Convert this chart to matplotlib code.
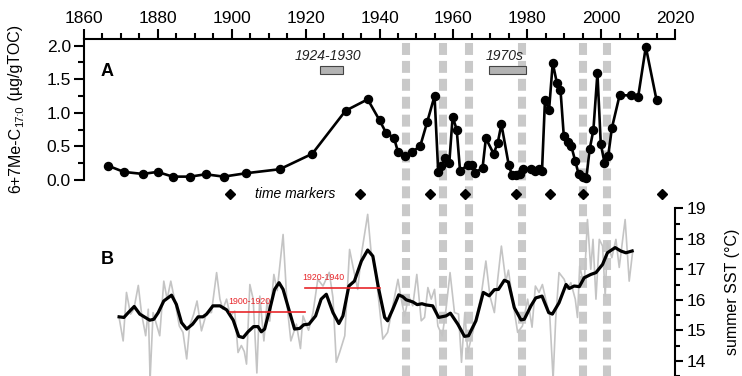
import matplotlib
matplotlib.use("Agg")
from matplotlib import pyplot as plt
from matplotlib.patches import Rectangle

plt.rcParams['font.family'] = ['Liberation Sans', 'DejaVu Sans']
plt.rcParams['lines.scale_dashes'] = False

# panel A: 6+7Me-C17:0 concentrations
a_years = [1866.6, 1870.8, 1875.9, 1879.9, 1884.0, 1888.8, 1892.9, 1897.8, 1903.8,
           1913.0, 1921.8, 1930.8, 1936.8, 1940.0, 1941.8, 1943.9, 1945.0, 1947.0,
           1948.8, 1951.0, 1952.9, 1954.9, 1955.9, 1956.7, 1957.8, 1958.9, 1959.8,
           1960.9, 1961.8, 1963.9, 1965.0, 1965.9, 1967.9, 1968.8, 1970.9, 1972.0,
           1973.0, 1975.0, 1975.9, 1977.0, 1978.0, 1978.9, 1981.0, 1982.1, 1983.2,
           1984.0, 1984.8, 1985.9, 1986.9, 1988.0, 1989.0, 1989.9, 1991.0, 1991.9,
           1993.0, 1993.9, 1995.0, 1996.0, 1996.9, 1997.9, 1999.0, 1999.9, 2000.9,
           2001.9, 2002.9, 2005.0, 2008.0, 2010.0, 2012.1, 2015.0]
a_values = [0.21, 0.12, 0.09, 0.12, 0.05, 0.05, 0.085, 0.05, 0.10,
            0.16, 0.39, 1.03, 1.20, 0.89, 0.70, 0.63, 0.42, 0.36,
            0.42, 0.50, 0.86, 1.25, 0.12, 0.21, 0.32, 0.26, 0.94,
            0.75, 0.14, 0.22, 0.22, 0.11, 0.18, 0.62, 0.39, 0.55,
            0.83, 0.22, 0.07, 0.07, 0.09, 0.17, 0.16, 0.14, 0.16,
            0.14, 1.19, 1.04, 1.74, 1.45, 1.34, 0.65, 0.57, 0.51,
            0.28, 0.09, 0.05, 0.03, 0.46, 0.74, 1.59, 0.54, 0.26,
            0.35, 0.77, 1.26, 1.26, 1.23, 1.98, 1.19]

time_markers = [1899.5, 1934.6, 1953.8, 1963.2, 1976.9, 1986.1, 1995.2, 2016.4]
event_years = [1947.2, 1957.1, 1964.3, 1978.7, 1995.0, 2001.5]
periods = [("1924-1930", 1923.8, 1930.0), ("1970s", 1969.7, 1979.6)]

# panel B: summer SST, annual (grey) and smoothed (black)
sst_years = [1869.5, 1870.6, 1871.5, 1872.6, 1873.5, 1874.7, 1875.6, 1876.7, 1877.4,
             1877.9, 1878.7, 1880.5, 1881.6, 1882.5, 1883.5, 1884.6, 1885.8, 1886.8,
             1887.8, 1888.6, 1889.7, 1890.6, 1891.8, 1893.2, 1894.5, 1895.9, 1896.8,
             1897.6, 1898.6, 1899.6, 1900.8, 1901.7, 1902.6, 1903.4, 1904.0, 1904.9,
             1905.8, 1906.8, 1907.6, 1908.7, 1909.6, 1910.3, 1911.4, 1912.3, 1913.9,
             1915.0, 1916.0, 1917.5, 1918.6, 1919.3, 1920.8, 1922.0, 1923.3, 1924.7,
             1926.4, 1927.4, 1928.3, 1929.2, 1930.6, 1931.9, 1932.8, 1934.1, 1935.1,
             1936.8, 1937.7, 1938.8, 1940.9, 1942.2, 1943.6, 1945.0, 1945.9, 1946.8,
             1947.9, 1949.0, 1950.1, 1951.3, 1952.2, 1953.1, 1954.0, 1954.9, 1955.8,
             1957.0, 1958.0, 1959.1, 1960.3, 1961.4, 1962.2, 1963.1, 1963.9, 1964.8,
             1966.1, 1967.5, 1968.8, 1969.9, 1971.1, 1972.0, 1973.0, 1974.2, 1974.9,
             1976.0, 1977.4, 1978.7, 1980.1, 1981.3, 1982.2, 1983.2, 1984.1, 1985.0,
             1986.1, 1987.0, 1987.7, 1988.6, 1990.0, 1990.9, 1991.8, 1993.0, 1993.6,
             1994.2, 1995.4, 1996.3, 1997.2, 1997.8, 1998.6, 1999.5, 2000.4, 2001.1,
             2001.7, 2002.9, 2004.0, 2004.9, 2006.5, 2007.6, 2008.5]
sst_values = [15.42, 14.65, 16.24, 15.53, 15.69, 16.47, 15.53, 14.82, 15.69,
              13.40, 15.58, 14.82, 16.61, 16.02, 16.61, 15.96, 15.14, 14.93,
              14.06, 15.14, 15.53, 15.96, 14.98, 15.58, 15.58, 16.89, 16.02,
              15.69, 16.02, 15.47, 15.63, 14.27, 14.50, 14.30, 13.89, 16.50,
              16.02, 13.60, 16.12, 14.65, 16.00, 15.30, 16.83, 16.30, 18.14,
              15.80, 14.65, 15.20, 14.40, 15.47, 15.00, 15.58, 16.67, 16.45,
              16.90, 16.07, 13.95, 14.27, 14.82, 17.65, 17.10, 16.34, 17.49,
              18.80, 17.60, 17.10, 14.71, 14.93, 15.80, 16.67, 16.02, 15.47,
              16.12, 15.80, 16.83, 15.31, 15.42, 16.40, 16.02, 16.34, 15.14,
              14.82, 15.69, 16.89, 15.58, 15.53, 13.95, 15.58, 14.27, 14.71,
              15.36, 16.12, 17.27, 16.12, 15.58, 16.67, 17.76, 16.60, 16.97,
              16.02, 14.93, 15.14, 16.02, 15.10, 16.45, 16.24, 16.50, 16.02,
              15.47, 13.40, 15.36, 16.89, 16.67, 16.34, 16.56, 16.02, 15.42,
              17.10, 16.45, 18.63, 17.00, 17.98, 16.02, 17.98, 17.76, 16.12,
              17.87, 17.38, 17.98, 17.06, 18.63, 16.61, 17.54]

smooth_years = [1869.5, 1870.8, 1872.0, 1873.6, 1875.1, 1877.8, 1878.9, 1880.1, 1881.6,
                1883.7, 1885.0, 1886.4, 1887.8, 1889.4, 1890.9, 1892.2, 1893.2, 1894.9,
                1896.8, 1898.6, 1900.4, 1901.9, 1903.1, 1904.4, 1905.9, 1907.1, 1908.0,
                1908.9, 1910.3, 1911.6, 1912.8, 1913.9, 1915.7, 1917.0, 1918.4, 1919.5,
                1920.9, 1922.7, 1924.2, 1925.6, 1927.4, 1929.0, 1930.1, 1931.7, 1933.2,
                1935.1, 1936.8, 1938.2, 1939.7, 1941.4, 1942.2, 1943.6, 1945.2, 1946.3,
                1947.2, 1949.0, 1950.2, 1951.5, 1952.6, 1954.4, 1956.0, 1958.0, 1959.2,
                1961.2, 1963.0, 1964.1, 1966.1, 1968.1, 1969.7, 1971.1, 1972.2, 1973.8,
                1974.9, 1976.5, 1978.3, 1979.2, 1981.0, 1982.3, 1984.0, 1985.8, 1986.8,
                1988.6, 1990.5, 1991.4, 1992.7, 1994.1, 1995.4, 1997.2, 1998.6, 2000.4,
                2001.7, 2003.8, 2005.3, 2006.7, 2008.4]
smooth_values = [15.44, 15.42, 15.58, 15.78, 15.53, 15.33, 15.36, 15.58, 15.96,
                 16.15, 15.85, 15.25, 15.04, 15.20, 15.44, 15.44, 15.53, 15.80,
                 15.80, 15.67, 15.33, 14.80, 14.76, 14.95, 15.12, 15.12, 14.95,
                 15.04, 15.69, 16.34, 16.56, 16.34, 15.58, 15.04, 15.06, 15.18,
                 15.20, 15.47, 16.02, 16.18, 15.58, 15.22, 15.47, 16.45, 16.61,
                 17.27, 17.63, 17.43, 16.40, 15.42, 15.31, 15.69, 16.16, 16.10,
                 16.00, 15.93, 15.84, 15.87, 15.83, 15.80, 15.42, 15.47, 15.56,
                 15.20, 14.80, 14.82, 15.31, 16.24, 16.13, 16.33, 16.34, 16.64,
                 16.58, 15.74, 15.34, 15.36, 15.80, 16.06, 16.12, 15.58, 15.53,
                 15.90, 16.50, 16.37, 16.45, 16.43, 16.72, 16.83, 16.89, 17.16,
                 17.54, 17.71, 17.60, 17.54, 17.60]

# mean SST bars for two intervals
mean_periods = [("1900-1920", 1899.5, 1919.7, 15.60), ("1920-1940", 1919.7, 1940.0, 16.39)]

W, H = 742, 376
fig = plt.figure(figsize=(W / 100, H / 100), dpi=100)
renderer = fig.canvas.get_renderer()


def px(x, y):
    return x / W, 1 - y / H


left, right, top = 84, 675, 39
ax_a = fig.add_axes([left / W, 0, (right - left) / W, (H - top) / H])
ax_a.patch.set_alpha(0)
ax_a.set_xlim(1860, 2020)
ax_a.set_ylim(-2.917, 2.098)

# grey dashed event bands behind everything
for yr in event_years:
    ax_a.plot([yr, yr], [0.988, 0], transform=ax_a.get_xaxis_transform(),
              color='#c9c9c9', lw=5.8, dashes=(8.6, 4.3), solid_capstyle='butt',
              zorder=0, clip_on=False)

ax_a.plot(a_years, a_values, '-o', color='black', lw=1.9, ms=5.8, zorder=3, clip_on=False)
ax_a.plot(time_markers, [-0.208] * len(time_markers), 'D', color='black', ms=5.2,
          clip_on=False, zorder=3)
ax_a.text(1917.3, -0.208, "time markers", style='italic', fontsize=10,
          ha='center', va='center')

for label, x0, x1 in periods:
    ax_a.add_patch(Rectangle((x0, 1.575), x1 - x0, 0.12, facecolor='#b3b3b3',
                             edgecolor='#444444', lw=0.8, zorder=2))
    ax_a.text((x0 + x1) / 2 - 0.8, 1.84, label, style='italic', fontsize=10,
              ha='center', va='center', color='#222222')

for side in ['bottom', 'right']:
    ax_a.spines[side].set_visible(False)
ax_a.spines['left'].set_bounds(0, 2.098)
ax_a.spines['left'].set_linewidth(1.5)
ax_a.spines['top'].set_linewidth(1.5)

ax_a.xaxis.tick_top()
ax_a.set_xticks(range(1860, 2021, 20))
ax_a.set_xticks(range(1860, 2021, 5), minor=True)
ax_a.set_yticks([0, 0.5, 1.0, 1.5, 2.0])
ax_a.set_yticklabels(['0.0', '0.5', '1.0', '1.5', '2.0'])
ax_a.set_yticks([0.25, 0.75, 1.25, 1.75], minor=True)
ax_a.tick_params(axis='both', which='major', direction='out', length=7, width=1.5,
                 labelsize=12.5, pad=2.5)
ax_a.tick_params(axis='both', which='minor', direction='out', length=4, width=1.5)
ax_a.tick_params(axis='x', bottom=False, top=True, which='both')

# panel B on its own y scale
ax_b = fig.add_axes(ax_a.get_position())
ax_b.patch.set_alpha(0)
ax_b.set_xlim(1860, 2020)
ax_b.set_ylim(13.53, 24.55)
ax_b.plot(sst_years, sst_values, color='#c4c4c4', lw=1.2, zorder=1)
ax_b.plot(smooth_years, smooth_values, color='black', lw=2.3, zorder=2)
for label, x0, x1, val in mean_periods:
    ax_b.plot([x0, x1], [val, val], color='#e8262a', lw=1.2, zorder=3)
    ax_b.text(x0 - 0.5, val + 0.33, label, color='#e8262a', fontsize=6.3,
              ha='left', va='center')

for side in ['left', 'top', 'bottom']:
    ax_b.spines[side].set_visible(False)
ax_b.spines['right'].set_bounds(13.53, 19)
ax_b.spines['right'].set_linewidth(1.5)
ax_b.set_xticks([])
ax_b.yaxis.tick_right()
ax_b.set_yticks(range(14, 20))
ax_b.set_yticks([13.5, 14.5, 15.5, 16.5, 17.5, 18.5], minor=True)
ax_b.tick_params(axis='y', which='major', direction='out', length=6, width=1.5,
                 labelsize=12.5, pad=2.5)
ax_b.tick_params(axis='y', which='minor', direction='out', length=3.5, width=1.5)

# left axis title, built in pieces so the 17:0 subscript keeps tight spacing
ylab_x, ylab_y = 20, 193
pieces = [('6+7Me-C', 11.5, 0), ('17:0', 8, 3), (' (µg/gTOC)', 11.5, 0)]
for txt, size, drop in pieces:
    t = fig.text(*px(ylab_x + drop, ylab_y), txt, rotation=90, rotation_mode='anchor',
                 ha='left', va='baseline', fontsize=size)
    ylab_y -= t.get_window_extent(renderer).height

fig.text(*px(733, 292), 'summer SST (°C)', rotation=90, ha='center', va='center',
         fontsize=11.5)
fig.text(*px(107, 72), 'A', fontsize=13, fontweight='bold', ha='center', va='center')
fig.text(*px(107, 259), 'B', fontsize=13, fontweight='bold', ha='center', va='center')

fig.savefig('out.png', dpi=100)
